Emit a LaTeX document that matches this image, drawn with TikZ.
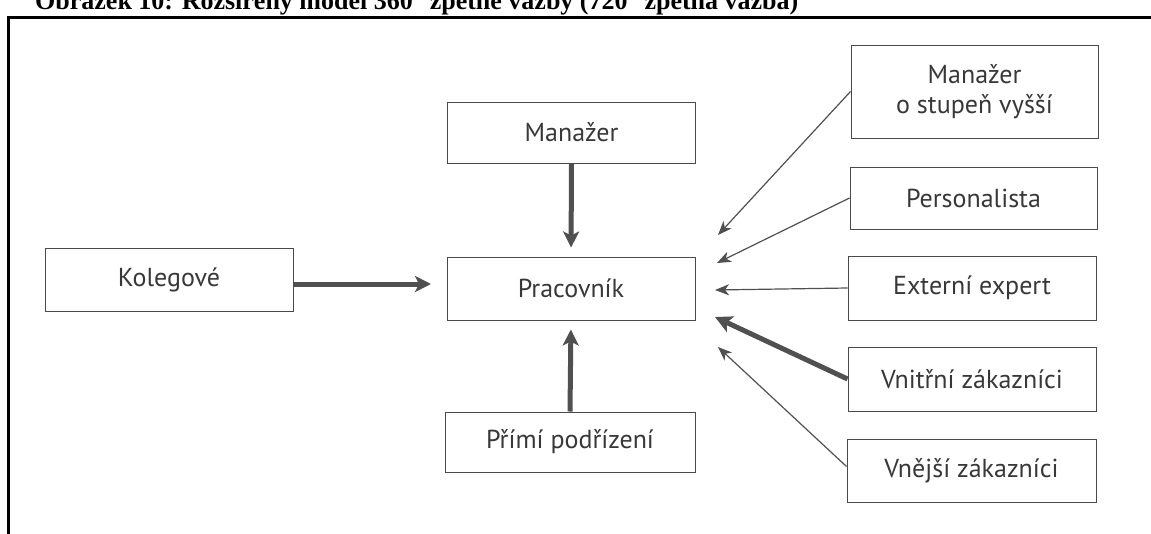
\documentclass[tikz,border=0pt]{standalone}
\usepackage{fontspec}
\setmainfont{Liberation Serif}
\newfontfamily\diagfont{PT Sans}
\usetikzlibrary{arrows.meta}
\definecolor{linegray}{HTML}{505050}
\definecolor{boxgray}{HTML}{4A4A4A}
\definecolor{textgray}{HTML}{383838}
\begin{document}
\begin{tikzpicture}[x=1pt,y=-1pt,
  box/.style={draw=boxgray, line width=1pt, minimum width=248pt, minimum height=63pt,
    inner sep=0pt, text=textgray, align=center,
    font=\diagfont\fontsize{26}{30}\selectfont},
  thickarrow/.style={draw=linegray, line width=5pt,
    -{Stealth[length=16pt,width=16pt,inset=4pt]}},
  thinarrow/.style={draw=linegray, line width=1.2pt,
    -{Stealth[length=14pt,width=11pt,inset=4pt]}},
  heavyarrow/.style={draw=linegray, line width=5pt,
    -{Stealth[length=17pt,width=17pt,inset=4pt]}}]
\useasboundingbox (0,0) rectangle (1151,533);
\begin{scope}
  \clip (0,0) rectangle (1151,533);
  \node[anchor=base west, inner sep=0pt, font=\bfseries\fontsize{26}{30}\selectfont] (title) at (35,9)
    {Obrázek 10: Rozšířený model 360° zpětné vazby (720° zpětná vazba)};
  \draw[line width=3pt] (8.5,545) -- (8.5,17) -- (1160,17);
\end{scope}

% left and centre column
\node[box] (kol) at (169,280) {Kolegové};
\node[box] (pra) at (571,288.5) {Pracovník};
\node[box, minimum height=61pt] (man) at (571.5,132.5) {Manažer};
\node[box, minimum width=250pt, minimum height=60pt] (pod) at (570,442) {Přímí podřízení};

% right column
\node[box, minimum width=247pt, minimum height=93pt] (mv) at (974.5,91.5) {Manažer\\o stupeň vyšší};
\node[box, minimum width=247pt, minimum height=62pt] (per) at (973.5,198) {Personalista};
\node[box, minimum height=64pt] (ext) at (972,288) {Externí expert};
\node[box, minimum height=64pt] (vni) at (972,379) {Vnitřní zákazníci};
\node[box, minimum width=249pt] (vne) at (971.5,470.5) {Vnější zákazníci};

% arrow tips near Pracovník
\coordinate (tk) at (431,284);
\coordinate (t1) at (718,235);
\coordinate (t2) at (717,263);
\coordinate (t3) at (715,290);
\coordinate (t4) at (715,317);
\coordinate (t5) at (718,347);

\draw[thickarrow, shorten >=9pt] (man.south) -- (pra.north);
\draw[thickarrow, shorten >=9pt] (pod.north) -- (pra.south);
\draw[thickarrow] (kol.east |- tk) -- (tk);

\draw[thinarrow] (mv.west) -- (t1);
\draw[thinarrow] (per.west) -- (t2);
\draw[thinarrow] (ext.west) -- (t3);
\draw[heavyarrow] (vni.west) -- (t4);
\draw[thinarrow] ([yshift=4pt]vne.west) -- (t5);
\end{tikzpicture}
\end{document}
